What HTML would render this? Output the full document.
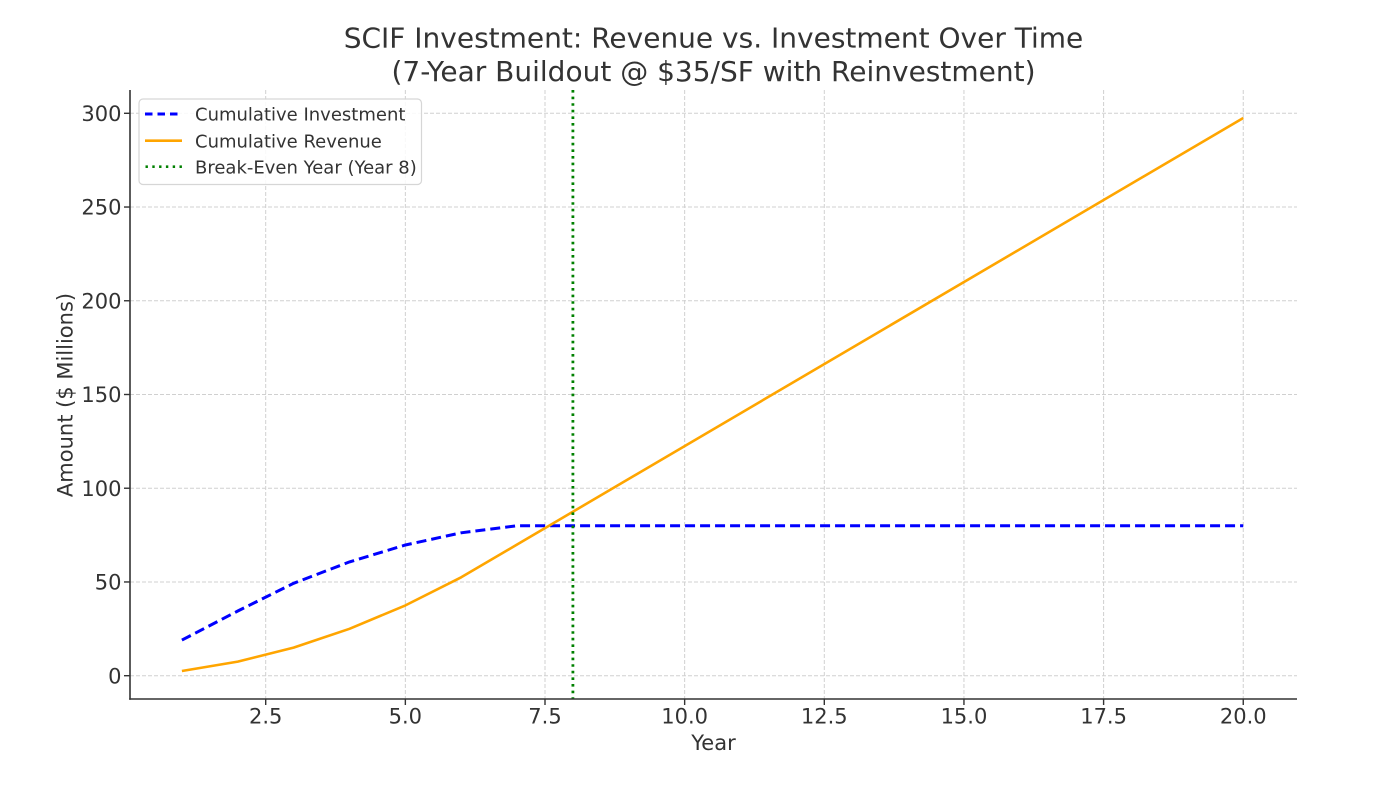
<!DOCTYPE html>
<html>
<head>
<meta charset="utf-8">
<style>
  html, body { margin: 0; padding: 0; background: #ffffff; }
  svg { display: block; }
  text { font-family: "DejaVu Sans", "Liberation Sans", sans-serif; fill: #333333; }
</style>
</head>
<body>
<svg width="1392" height="800" viewBox="0 0 1392 800" xmlns="http://www.w3.org/2000/svg">
  <rect x="0" y="0" width="1392" height="800" fill="#ffffff"/>

  <!-- Title -->
  <text x="713.5" y="47.5" font-size="28" text-anchor="middle">SCIF Investment: Revenue vs. Investment Over Time</text>
  <text x="713.5" y="81" font-size="28" text-anchor="middle">(7-Year Buildout @ $35/SF with Reinvestment)</text>

  <!-- Grid -->
  <g stroke="#d0d0d0" stroke-width="1" stroke-dasharray="4 2" fill="none">
    <line x1="265.7" y1="90" x2="265.7" y2="699"/>
    <line x1="405.35" y1="90" x2="405.35" y2="699"/>
    <line x1="545.0" y1="90" x2="545.0" y2="699"/>
    <line x1="684.65" y1="90" x2="684.65" y2="699"/>
    <line x1="824.3" y1="90" x2="824.3" y2="699"/>
    <line x1="963.95" y1="90" x2="963.95" y2="699"/>
    <line x1="1103.6" y1="90" x2="1103.6" y2="699"/>
    <line x1="1243.25" y1="90" x2="1243.25" y2="699"/>

    <line x1="130" y1="675.7" x2="1297" y2="675.7"/>
    <line x1="130" y1="581.96" x2="1297" y2="581.96"/>
    <line x1="130" y1="488.23" x2="1297" y2="488.23"/>
    <line x1="130" y1="394.5" x2="1297" y2="394.5"/>
    <line x1="130" y1="300.76" x2="1297" y2="300.76"/>
    <line x1="130" y1="207.03" x2="1297" y2="207.03"/>
    <line x1="130" y1="113.29" x2="1297" y2="113.29"/>
  </g>

  <!-- Cumulative Investment (blue dashed) -->
  <polyline fill="none" stroke="#0000ff" stroke-width="3" stroke-dasharray="10 5"
    points="181.9,640.1 237.8,611.0 293.6,583.3 349.5,561.9 405.4,545.0 461.2,532.8 517.1,525.7 1243.25,525.7"/>

  <!-- Cumulative Revenue (orange solid) -->
  <polyline fill="none" stroke="#ffa500" stroke-width="2.6" stroke-linejoin="round"
    points="181.9,671.0 237.8,661.6 293.6,647.6 349.5,628.8 405.4,605.4 461.2,577.3 517.1,544.5 1243.25,118.0"/>

  <!-- Break-even vertical line (green dotted) -->
  <line x1="572.9" y1="90" x2="572.9" y2="699" stroke="#008000" stroke-width="2.8" stroke-dasharray="2.6 4"/>

  <!-- Spines -->
  <g stroke="#333333" stroke-width="1.6" fill="none">
    <line x1="130" y1="90" x2="130" y2="699.8"/>
    <line x1="129.2" y1="699" x2="1297" y2="699"/>
  </g>

  <!-- Ticks -->
  <g stroke="#333333" stroke-width="1.4">
    <line x1="124" y1="675.7" x2="130" y2="675.7"/>
    <line x1="124" y1="581.96" x2="130" y2="581.96"/>
    <line x1="124" y1="488.23" x2="130" y2="488.23"/>
    <line x1="124" y1="394.5" x2="130" y2="394.5"/>
    <line x1="124" y1="300.76" x2="130" y2="300.76"/>
    <line x1="124" y1="207.03" x2="130" y2="207.03"/>
    <line x1="124" y1="113.29" x2="130" y2="113.29"/>

    <line x1="265.7" y1="699" x2="265.7" y2="705"/>
    <line x1="405.35" y1="699" x2="405.35" y2="705"/>
    <line x1="545.0" y1="699" x2="545.0" y2="705"/>
    <line x1="684.65" y1="699" x2="684.65" y2="705"/>
    <line x1="824.3" y1="699" x2="824.3" y2="705"/>
    <line x1="963.95" y1="699" x2="963.95" y2="705"/>
    <line x1="1103.6" y1="699" x2="1103.6" y2="705"/>
    <line x1="1243.25" y1="699" x2="1243.25" y2="705"/>
  </g>

  <!-- Y tick labels -->
  <g font-size="21" text-anchor="end">
    <text x="121.5" y="683.3">0</text>
    <text x="121.5" y="589.6">50</text>
    <text x="121.5" y="495.8">100</text>
    <text x="121.5" y="402.1">150</text>
    <text x="121.5" y="308.4">200</text>
    <text x="121.5" y="214.6">250</text>
    <text x="121.5" y="120.9">300</text>
  </g>

  <!-- X tick labels -->
  <g font-size="21" text-anchor="middle">
    <text x="265.7" y="723.3">2.5</text>
    <text x="405.35" y="723.3">5.0</text>
    <text x="545.0" y="723.3">7.5</text>
    <text x="684.65" y="723.3">10.0</text>
    <text x="824.3" y="723.3">12.5</text>
    <text x="963.95" y="723.3">15.0</text>
    <text x="1103.6" y="723.3">17.5</text>
    <text x="1243.25" y="723.3">20.0</text>
  </g>

  <!-- Axis labels -->
  <text x="713.5" y="750" font-size="21" text-anchor="middle">Year</text>
  <text x="0" y="0" font-size="21" text-anchor="middle" transform="translate(72.5,395) rotate(-90)">Amount ($ Millions)</text>

  <!-- Legend -->
  <rect x="139" y="99" width="282.5" height="85.5" rx="4" ry="4" fill="#ffffff" fill-opacity="0.85" stroke="#d6d6d6" stroke-width="1.2"/>
  <line x1="145" y1="114" x2="182" y2="114" stroke="#0000ff" stroke-width="3" stroke-dasharray="7.5 5"/>
  <line x1="145" y1="140.7" x2="182" y2="140.7" stroke="#ffa500" stroke-width="2.6"/>
  <line x1="145.5" y1="166.7" x2="182" y2="166.7" stroke="#008000" stroke-width="2.6" stroke-dasharray="2.4 4.4"/>
  <g font-size="18">
    <text x="195" y="120.5">Cumulative Investment</text>
    <text x="195" y="147.3">Cumulative Revenue</text>
    <text x="195" y="173.6">Break-Even Year (Year 8)</text>
  </g>
</svg>
</body>
</html>
